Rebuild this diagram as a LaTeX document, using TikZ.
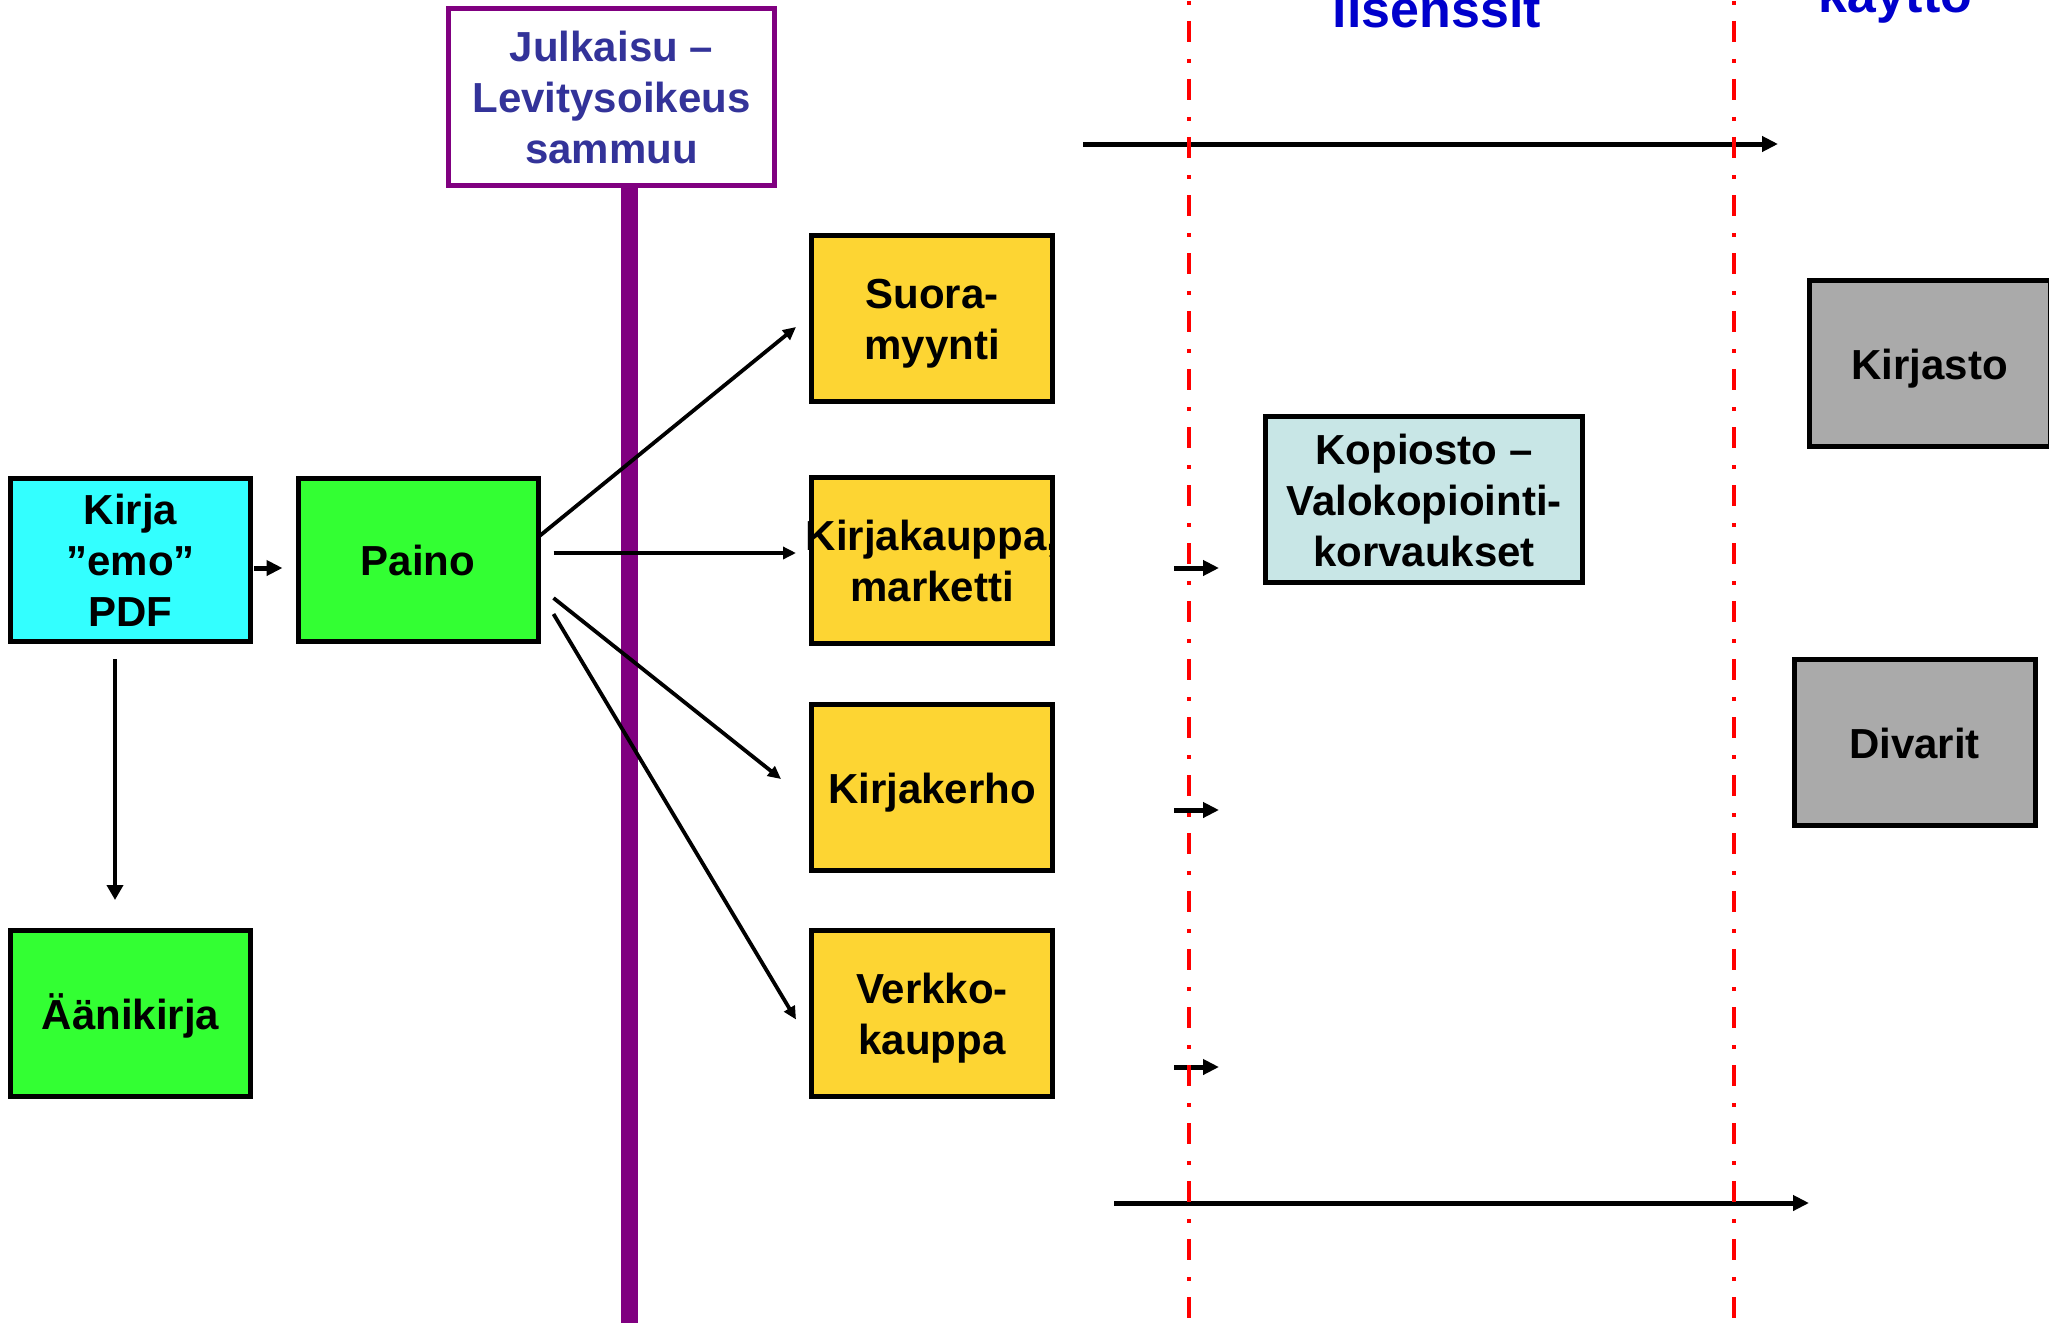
\documentclass[tikz,border=0pt]{standalone}
\usepackage{fontspec}
\setmainfont{Liberation Sans}
\usetikzlibrary{arrows.meta,calc}
\definecolor{cyanbox}{RGB}{51,255,255}
\definecolor{greenbox}{RGB}{51,255,51}
\definecolor{yellowbox}{RGB}{253,213,51}
\definecolor{kopbox}{RGB}{200,230,230}
\definecolor{graybox}{RGB}{170,170,170}
\definecolor{pubpurple}{RGB}{128,0,128}
\definecolor{pubtext}{RGB}{51,51,153}
\definecolor{headblue}{RGB}{0,0,204}
\definecolor{dashred}{RGB}{255,0,0}
\newcommand\ls{\rule[-4.5pt]{0pt}{24.5pt}}
\begin{document}
\begin{tikzpicture}[x=0.5pt,y=-0.5pt,
  boxfont/.style={font=\bfseries\fontsize{21}{25.5}\selectfont},
  box/.style={boxfont, draw=black, line width=2.5pt, minimum width=120.5pt, minimum height=83pt, inner sep=0pt, align=center},
  headtext/.style={anchor=base, text=headblue, font=\bfseries\fontsize{26}{30}\selectfont},
  thinarr/.style={-{Triangle[length=6.5pt,width=6pt]}, line width=1.9pt},
  midarr/.style={-{Triangle[length=7.5pt,width=8pt]}, line width=2.2pt},
  thickarr/.style={-{Triangle[length=8pt,width=7.5pt]}, line width=2.5pt},
  redline/.style={draw=dashred, line width=1.9pt, dash pattern=on 10.5pt off 8.5pt on 2pt off 8pt, dash phase=18.5pt},
  pubbar/.style={draw=pubpurple, line width=8.5pt}
]
\useasboundingbox (0,0) rectangle (2049,1322);

% headings (partly above the page, as in the reference)
\node[headtext] (lis) at (1437,28) {lisenssit};
\node[headtext] (kay) at (1895.5,13) {käyttö};

% publishing box and bar
\node[boxfont, draw=pubpurple, line width=2.5pt, text=pubtext, minimum width=163pt, minimum height=88.5pt, inner sep=0pt, align=center] (julk) at (611.5,97) {\ls Julkaisu –\\\ls Levitysoikeus\\\ls sammuu};
\coordinate (barend) at (629.5,1330);
\draw[pubbar] ($(julk.south)+(18,0)$) -- (barend);

% boxes
\node[box, fill=cyanbox, minimum width=120pt, minimum height=81.5pt] (kirja) at (130.5,560) {\ls Kirja\\\ls ”emo”\\\ls PDF};
\node[box, fill=greenbox, minimum width=120pt, minimum height=81.5pt] (paino) at (418,560) {\ls Paino};
\node[box, fill=greenbox, minimum width=120pt] (aani) at (130.5,1013.5) {\ls Äänikirja};

\node[box, fill=yellowbox] (suora) at (932,318.5) {\ls Suora-\\\ls myynti};
\node[box, fill=yellowbox] (kauppa) at (932,560.5) {\ls\makebox[0pt]{Kirjakauppa,}\\\ls marketti};
\node[box, fill=yellowbox] (kerho) at (932,787.5) {\ls Kirjakerho};
\node[box, fill=yellowbox] (verkko) at (932,1013.5) {\ls Verkko-\\\ls kauppa};

\node[box, fill=kopbox, minimum width=158.5pt] (kop) at (1424,499.5) {\ls Kopiosto –\\\ls Valokopiointi-\\\ls korvaukset};

\node[box, fill=graybox] (kirjasto) at (1929.5,363.5) {\ls Kirjasto};
\node[box, fill=graybox] (divarit) at (1914.5,742.5) {\ls Divarit};

% connectors from the source
\draw[thickarr] ($(kirja.east)+(1,8)$) -- ($(paino.west)+(-13,8)$);
\draw[midarr] ($(kirja.south)+(-15.5,15)$) -- ($(aani.north)+(-15.5,-28)$);

\draw[thinarr] ($(paino.east)+(-1,-24)$) -- ($(suora.west)+(-13,8.5)$);
\draw[thinarr] ($(paino.east)+(13,-7)$) -- ($(kauppa.west)+(-13,-7.5)$);
\draw[thinarr] ($(paino.east)+(13,38)$) -- ($(kerho.west)+(-28,-8.5)$);
\draw[thinarr] ($(paino.east)+(13,54)$) -- ($(verkko.west)+(-13,6)$);

% long horizontal arrows
\coordinate (topa) at (1083,144);
\coordinate (topb) at (1778,144);
\coordinate (bota) at (1114,1203);
\coordinate (botb) at (1809,1203);
\draw[thickarr] (topa) -- (topb);
\draw[thickarr] (bota) -- (botb);

% short arrows at the first boundary
\coordinate (s1a) at (1174,568);
\coordinate (s1b) at (1219,568);
\coordinate (s2a) at (1174,810);
\coordinate (s2b) at (1219,810);
\coordinate (s3a) at (1174,1067);
\coordinate (s3b) at (1219,1067);
\draw[thickarr] (s1a) -- (s1b);
\draw[thickarr] (s2a) -- (s2b);
\draw[thickarr] (s3a) -- (s3b);

% red boundaries
\coordinate (r1t) at (1189,0);
\coordinate (r1b) at (1189,1322);
\coordinate (r2t) at (1734,0);
\coordinate (r2b) at (1734,1322);
\draw[redline] (r1t) -- (r1b);
\draw[redline] (r2t) -- (r2b);
\end{tikzpicture}
\end{document}
